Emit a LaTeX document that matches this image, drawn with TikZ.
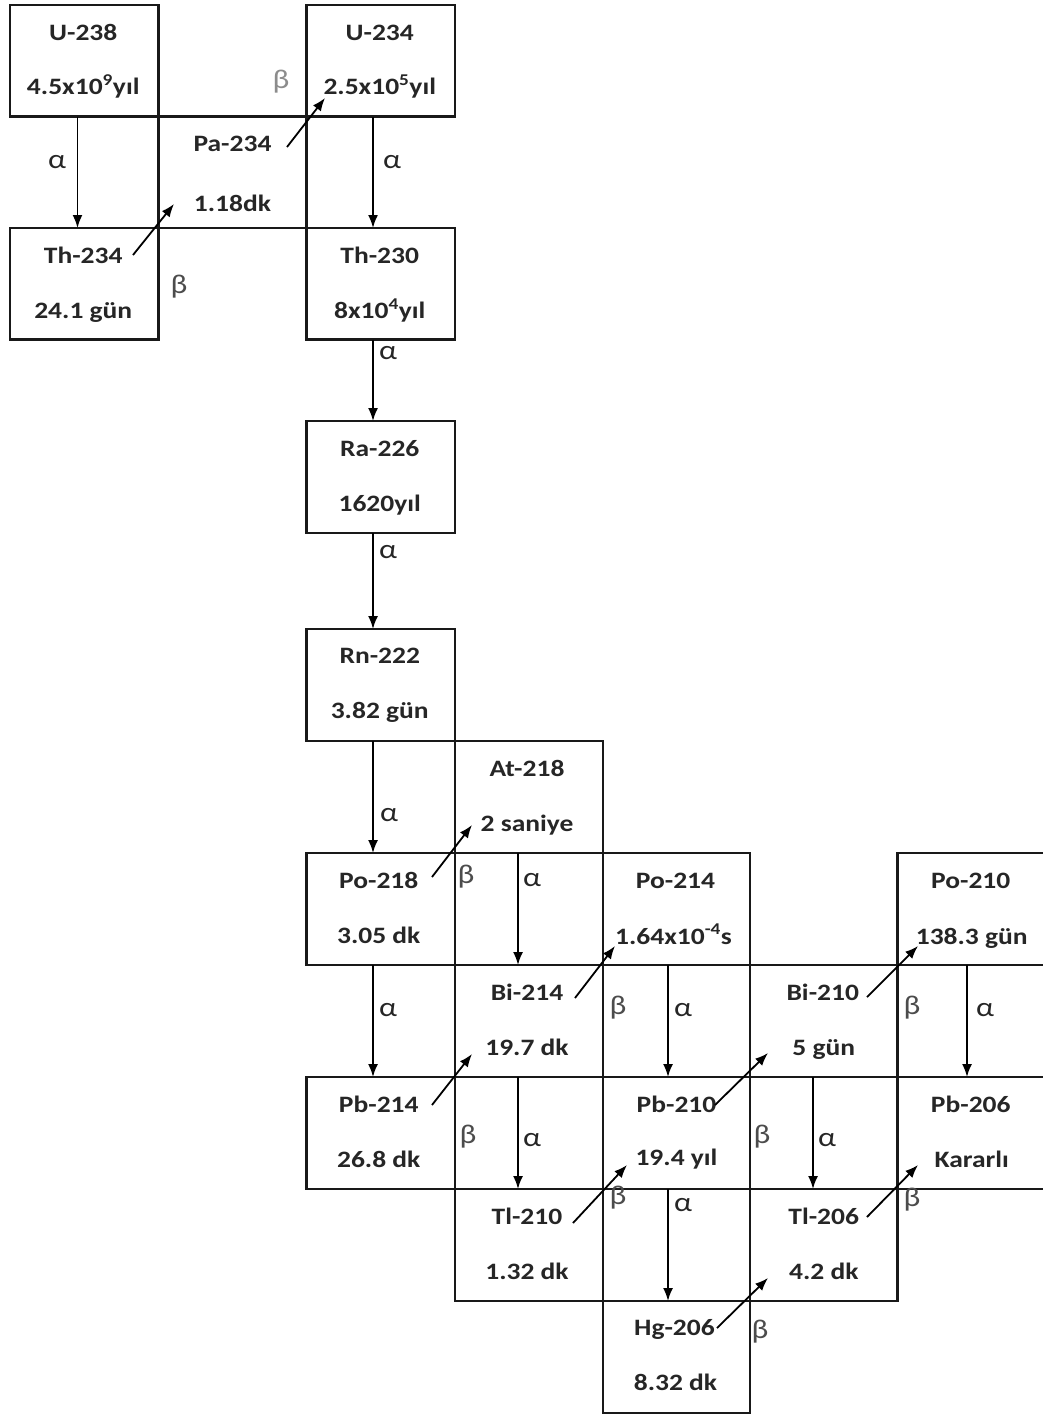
\documentclass[tikz,border=0pt]{standalone}
\usepackage{fontspec}
\setmainfont{Carlito}[FakeStretch=1.17]
\usetikzlibrary{arrows.meta}
\begin{document}
\begin{tikzpicture}[x=1pt,y=-1pt,
  box/.style={draw=black!90, line width=2.2pt, inner sep=0pt, outer sep=0pt, minimum height=112pt},
  toprow/.style={minimum height=111.5pt},
  col0/.style={minimum width=148.5pt},
  col1/.style={minimum width=148pt},
  col2/.style={minimum width=148.5pt},
  col3/.style={minimum width=148pt},
  col4/.style={minimum width=147pt},
  col5/.style={minimum width=147.5pt},
  col6/.style={minimum width=148.5pt},
  iso/.style={font=\fontsize{23.5}{28}\selectfont\bfseries, text=black!85, anchor=base, inner sep=0pt},
  alab/.style={font=\fontsize{27}{30}\selectfont, text=black!85, inner sep=0pt},
  blab/.style={font=\fontsize{27}{30}\selectfont, text=black!70, inner sep=0pt},
  decay/.style={line width=1.8pt, draw=black, -{Latex[length=13pt,width=10pt]}}
]
\clip (0,0) rectangle (1043,1417);
\fill[white] (0,0) rectangle (1043,1417);

% boxes
\node[box,toprow,col0] (u238) at (84.25,60.75) {};
\node[box,toprow,col2] (u234) at (380.75,60.75) {};
\node[box,toprow,col1] (pa234) at (232.5,172.25) {};
\node[box,toprow,col0] (th234) at (84.25,283.75) {};
\node[box,toprow,col2] (th230) at (380.75,283.75) {};
\node[box,col2] (ra226) at (380.75,477) {};
\node[box,col2] (rn222) at (380.75,685) {};
\node[box,col3] (at218) at (529,797) {};
\node[box,col2] (po218) at (380.75,909) {};
\node[box,col4] (po214) at (676.5,909) {};
\node[box,col6] (po210) at (971.75,909) {};
\node[box,col3] (bi214) at (529,1021) {};
\node[box,col5] (bi210) at (823.75,1021) {};
\node[box,col2] (pb214) at (380.75,1133) {};
\node[box,col4] (pb210) at (676.5,1133) {};
\node[box,col6] (pb206) at (971.75,1133) {};
\node[box,col3] (tl210) at (529,1245) {};
\node[box,col5] (tl206) at (823.75,1245) {};
\node[box,col4] (hg206) at (676.5,1357) {};

% texts
\node[iso] (u238a) at ([shift={(-1,-20.75)}]u238.center) {U-238};
\node[iso] (u238b) at ([shift={(-1,34)}]u238.center) {4.5x10\textsuperscript{9}yıl};
\node[iso] (u234a) at ([shift={(-1,-20.75)}]u234.center) {U-234};
\node[iso] (u234b) at ([shift={(-1,34)}]u234.center) {2.5x10\textsuperscript{5}yıl};
\node[iso] (pa234a) at ([shift={(0,-20.75)}]pa234.center) {Pa-234};
\node[iso] (pa234b) at ([shift={(0,39)}]pa234.center) {1.18dk};
\node[iso] (th234a) at ([shift={(-1,-20)}]th234.center) {Th-234};
\node[iso] (th234b) at ([shift={(-1,34.5)}]th234.center) {24.1 gün};
\node[iso] (th230a) at ([shift={(-1,-20)}]th230.center) {Th-230};
\node[iso] (th230b) at ([shift={(-1,34.5)}]th230.center) {8x10\textsuperscript{4}yıl};
\node[iso] (ra226a) at ([shift={(-1,-21)}]ra226.center) {Ra-226};
\node[iso] (ra226b) at ([shift={(-1,34)}]ra226.center) {1620yıl};
\node[iso] (rn222a) at ([shift={(-1,-22)}]rn222.center) {Rn-222};
\node[iso] (rn222b) at ([shift={(-1,33)}]rn222.center) {3.82 gün};
\node[iso] (at218a) at ([shift={(-2,-21)}]at218.center) {At-218};
\node[iso] (at218b) at ([shift={(-2,34)}]at218.center) {2 saniye};
\node[iso] (po218a) at ([shift={(-2,-21)}]po218.center) {Po-218};
\node[iso] (po218b) at ([shift={(-2,34)}]po218.center) {3.05 dk};
\node[iso] (po214a) at ([shift={(-1,-21)}]po214.center) {Po-214};
\node[iso] (po214b) at ([shift={(-3,35)}]po214.center) {1.64x10\textsuperscript{-4}s};
\node[iso] (po210a) at ([shift={(-1,-21)}]po210.center) {Po-210};
\node[iso] (po210b) at ([shift={(0,35)}]po210.center) {138.3 gün};
\node[iso] (bi214a) at ([shift={(-2,-20.5)}]bi214.center) {Bi-214};
\node[iso] (bi214b) at ([shift={(-2,34.5)}]bi214.center) {19.7 dk};
\node[iso] (bi210a) at ([shift={(-1,-20.5)}]bi210.center) {Bi-210};
\node[iso] (bi210b) at ([shift={(0,34.5)}]bi210.center) {5 gün};
\node[iso] (pb214a) at ([shift={(-2,-20.5)}]pb214.center) {Pb-214};
\node[iso] (pb214b) at ([shift={(-2,34.5)}]pb214.center) {26.8 dk};
\node[iso] (pb210a) at ([shift={(0,-21)}]pb210.center) {Pb-210};
\node[iso] (pb210b) at ([shift={(0,32)}]pb210.center) {19.4 yıl};
\node[iso] (pb206a) at ([shift={(-1,-20.5)}]pb206.center) {Pb-206};
\node[iso] (pb206b) at ([shift={(0,34.5)}]pb206.center) {Kararlı};
\node[iso] (tl210a) at ([shift={(-2,-20.5)}]tl210.center) {Tl-210};
\node[iso] (tl210b) at ([shift={(-2,34.5)}]tl210.center) {1.32 dk};
\node[iso] (tl206a) at ([shift={(0,-20.5)}]tl206.center) {Tl-206};
\node[iso] (tl206b) at ([shift={(0,34.5)}]tl206.center) {4.2 dk};
\node[iso] (hg206a) at ([shift={(-2,-21.5)}]hg206.center) {Hg-206};
\node[iso] (hg206b) at ([shift={(-1,33.5)}]hg206.center) {8.32 dk};

% alpha decays
\draw[decay] ([xshift=-6.75]u238.south) -- ([xshift=-6.75]th234.north);
\draw[decay] ([xshift=-7.75]u234.south) -- ([xshift=-7.75]th230.north);
\draw[decay] ([xshift=-7.75]th230.south) -- ([xshift=-7.75]ra226.north);
\draw[decay] ([xshift=-7.75]ra226.south) -- ([xshift=-7.75]rn222.north);
\draw[decay] ([xshift=-7.75]rn222.south) -- ([xshift=-7.75]po218.north);
\draw[decay] ([xshift=-11]at218.south) -- ([xshift=-11]bi214.north);
\draw[decay] ([xshift=-7.75]po218.south) -- ([xshift=-7.75]pb214.north);
\draw[decay] ([xshift=-11]bi214.south) -- ([xshift=-11]tl210.north);
\draw[decay] ([xshift=-8.5]po214.south) -- ([xshift=-8.5]pb210.north);
\draw[decay] ([xshift=-4.75]po210.south) -- ([xshift=-4.75]pb206.north);
\draw[decay] ([xshift=-10.75]bi210.south) -- ([xshift=-10.75]tl206.north);
\draw[decay] ([xshift=-8.5]pb210.south) -- ([xshift=-8.5]hg206.north);

% beta decays
\draw[decay] ([shift={(48.75,-28.75)}]th234.center) -- ([shift={(-58.5,31.75)}]pa234.center);
\draw[decay] ([shift={(54.5,-25.25)}]pa234.center) -- ([shift={(-55.75,37.25)}]u234.center);
\draw[decay] ([shift={(51.25,-32)}]po218.center) -- ([shift={(-57,28)}]at218.center);
\draw[decay] ([shift={(51.25,-28)}]pb214.center) -- ([shift={(-57,33)}]bi214.center);
\draw[decay] ([shift={(46,-23)}]bi214.center) -- ([shift={(-61.5,37)}]po214.center);
\draw[decay] ([shift={(43.25,-24)}]bi210.center) -- ([shift={(-53.75,37)}]po210.center);
\draw[decay] ([shift={(38.5,-28)}]pb210.center) -- ([shift={(-55.75,32)}]bi210.center);
\draw[decay] ([shift={(44,-22)}]tl210.center) -- ([shift={(-49.5,32)}]pb210.center);
\draw[decay] ([shift={(43.25,-28)}]tl206.center) -- ([shift={(-53.75,32)}]pb206.center);
\draw[decay] ([shift={(40.5,-29)}]hg206.center) -- ([shift={(-55.75,33)}]tl206.center);

% alpha labels
\node[alab] (al1) at (57,162) {α};
\node[alab] (al2) at (392,162) {α};
\node[alab] (al3) at (388,353) {α};
\node[alab] (al4) at (388,552) {α};
\node[alab] (al5) at (389,815) {α};
\node[alab] (al6) at (532,880) {α};
\node[alab] (al7) at (388,1010) {α};
\node[alab] (al8) at (532,1140) {α};
\node[alab] (al9) at (683,1010) {α};
\node[alab] (al10) at (985,1010) {α};
\node[alab] (al11) at (827,1140) {α};
\node[alab] (al12) at (683,1205) {α};

% beta labels
\node[blab] (bl1) at (179,287) {β};
\node[blab,text=black!45] (bl2) at (281,82) {β};
\node[blab] (bl3) at (466,877) {β};
\node[blab] (bl4) at (468,1137) {β};
\node[blab] (bl5) at (618,1008) {β};
\node[blab] (bl6) at (912,1008) {β};
\node[blab] (bl7) at (762,1137) {β};
\node[blab] (bl8) at (618,1198) {β};
\node[blab] (bl9) at (912,1200) {β};
\node[blab] (bl10) at (760,1332) {β};
\end{tikzpicture}
\end{document}
